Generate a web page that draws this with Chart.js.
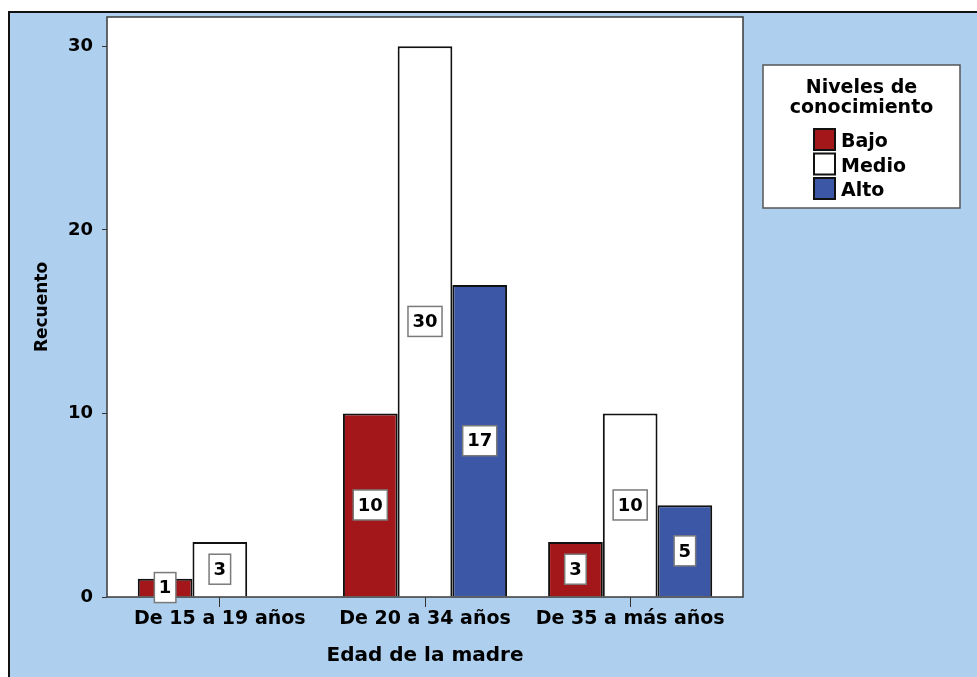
<!DOCTYPE html>
<html>
<head>
<meta charset="utf-8">
<script src="https://cdn.jsdelivr.net/npm/chart.js@4.4.1/dist/chart.umd.min.js"></script>
<style>
  html, body { margin: 0; padding: 0; background: #fff; }
  #wrap { width: 977px; height: 677px; }
</style>
</head>
<body>
<div id="wrap"><canvas id="edad-chart" width="977" height="677"></canvas></div>
<script>
var categorias = ['De 15 a 19 años', 'De 20 a 34 años', 'De 35 a más años'];
var bajo = [1, 10, 3];
var medio = [3, 30, 10];
var alto = [0, 17, 5];
var yTicks = [0, 10, 20, 30];

var FUENTE = '"DejaVu Sans", Verdana, sans-serif';
var FONDO = '#aecfed';

function puntos(valores) {
    return valores.map(function (v, i) { return {x: i, y: v}; });
}

// marco azul del panel y area blanca del grafico
var fondoPanel = {
    id: 'fondoPanel',
    beforeDraw: function (chart) {
        var ctx = chart.ctx, a = chart.chartArea;
        ctx.save();
        ctx.fillStyle = '#fff';
        ctx.fillRect(0, 0, chart.width, chart.height);
        ctx.fillStyle = FONDO;
        ctx.fillRect(9, 12, chart.width - 9, chart.height - 12);
        ctx.strokeStyle = '#111';
        ctx.lineWidth = 2;
        ctx.beginPath();
        ctx.moveTo(9, chart.height);
        ctx.lineTo(9, 12);
        ctx.lineTo(chart.width, 12);
        ctx.stroke();
        ctx.fillStyle = '#fff';
        ctx.fillRect(a.left, a.top, a.right - a.left, a.bottom - a.top);
        ctx.restore();
    },
    afterDatasetsDraw: function (chart) {
        var ctx = chart.ctx, a = chart.chartArea;
        ctx.save();
        ctx.strokeStyle = '#3a3a3a';
        ctx.lineWidth = 1.5;
        ctx.strokeRect(a.left, a.top, a.right - a.left, a.bottom - a.top);
        ctx.restore();
    }
};

// cajita con el recuento en medio de cada barra
var etiquetasValor = {
    id: 'etiquetasValor',
    afterDatasetsDraw: function (chart) {
        var ctx = chart.ctx;
        ctx.save();
        ctx.font = 'bold 18px ' + FUENTE;
        ctx.textAlign = 'center';
        ctx.textBaseline = 'middle';
        chart.data.datasets.forEach(function (ds, i) {
            chart.getDatasetMeta(i).data.forEach(function (bar, j) {
                var v = ds.data[j].y;
                if (!v) return;
                var txt = String(v);
                var w = ctx.measureText(txt).width + 9;
                var h = 30;
                var cx = bar.x, cy = (bar.y + bar.base) / 2;
                ctx.fillStyle = '#fff';
                ctx.fillRect(cx - w / 2, cy - h / 2, w, h);
                ctx.strokeStyle = '#7a7a7a';
                ctx.lineWidth = 1.5;
                ctx.strokeRect(cx - w / 2, cy - h / 2, w, h);
                ctx.fillStyle = '#000';
                ctx.fillText(txt, cx, cy + 1);
            });
        });
        ctx.restore();
    }
};

// leyenda en recuadro a la derecha
var leyendaNiveles = {
    id: 'leyendaNiveles',
    afterDraw: function (chart) {
        var ctx = chart.ctx;
        var x0 = 763, y0 = 65, w = 197, h = 143;
        ctx.save();
        ctx.fillStyle = '#fff';
        ctx.fillRect(x0, y0, w, h);
        ctx.strokeStyle = '#555';
        ctx.lineWidth = 1.5;
        ctx.strokeRect(x0, y0, w, h);

        ctx.fillStyle = '#000';
        ctx.font = 'bold 19px ' + FUENTE;
        ctx.textAlign = 'center';
        ctx.textBaseline = 'alphabetic';
        ctx.fillText('Niveles de', x0 + w / 2, 93);
        ctx.fillText('conocimiento', x0 + w / 2, 113);

        ctx.textAlign = 'left';
        chart.data.datasets.forEach(function (ds, i) {
            var base = 147 + i * 24.5;
            ctx.fillStyle = ds.backgroundColor;
            ctx.fillRect(814, base - 18, 21, 21);
            ctx.strokeStyle = '#111';
            ctx.lineWidth = 2;
            ctx.strokeRect(814, base - 18, 21, 21);
            ctx.fillStyle = '#000';
            ctx.fillText(ds.label, 841, base);
        });
        ctx.restore();
    }
};

var ctx = document.getElementById('edad-chart').getContext('2d');
var edadChart = new Chart(ctx, {
    type: 'bar',
    data: {
        datasets: [
            {label: 'Bajo', data: puntos(bajo), backgroundColor: '#a3161a'},
            {label: 'Medio', data: puntos(medio), backgroundColor: '#ffffff'},
            {label: 'Alto', data: puntos(alto), backgroundColor: '#3d57a7'}
        ]
    },
    options: {
        responsive: false,
        devicePixelRatio: 1,
        animation: false,
        datasets: {
            bar: {
                borderColor: '#111',
                borderWidth: 2,
                categoryPercentage: 0.8,
                barPercentage: 1.0
            }
        },
        layout: {padding: {top: 17, right: 234, bottom: 0, left: 0}},
        plugins: {
            legend: {display: false},
            tooltip: {enabled: false}
        },
        scales: {
            x: {
                type: 'linear',
                min: -0.55,
                max: 2.55,
                offset: false,
                afterBuildTicks: function (s) {
                    s.ticks = categorias.map(function (c, i) { return {value: i}; });
                },
                afterFit: function (s) {
                    s.height = 80;
                    s.paddingLeft = 0;
                    s.paddingRight = 0;
                },
                ticks: {
                    callback: function (v) { return categorias[v]; },
                    font: {family: FUENTE, size: 19, weight: 'bold'},
                    color: '#000',
                    padding: 1,
                    maxRotation: 0,
                    autoSkip: false
                },
                grid: {display: true, drawOnChartArea: false, drawTicks: true, tickLength: 10, color: '#333', offset: false},
                border: {display: false},
                title: {
                    display: true,
                    text: 'Edad de la madre',
                    color: '#000',
                    font: {family: FUENTE, size: 20, weight: 'bold'},
                    padding: {top: 0, bottom: 9}
                }
            },
            y: {
                min: 0,
                max: 31.6,
                afterBuildTicks: function (s) {
                    s.ticks = yTicks.map(function (v) { return {value: v}; });
                },
                afterFit: function (s) {
                    s.width = 107;
                    s.paddingTop = 0;
                    s.paddingBottom = 0;
                },
                ticks: {
                    font: {family: FUENTE, size: 18, weight: 'bold'},
                    color: '#000',
                    padding: 9
                },
                grid: {display: true, drawOnChartArea: false, drawTicks: true, tickLength: 5, color: '#333'},
                border: {display: false},
                title: {
                    display: true,
                    text: 'Recuento',
                    color: '#000',
                    font: {family: FUENTE, size: 17, weight: 'bold'},
                    padding: {top: 32, bottom: 0}
                }
            }
        }
    },
    plugins: [fondoPanel, etiquetasValor, leyendaNiveles]
});
</script>
</body>
</html>
